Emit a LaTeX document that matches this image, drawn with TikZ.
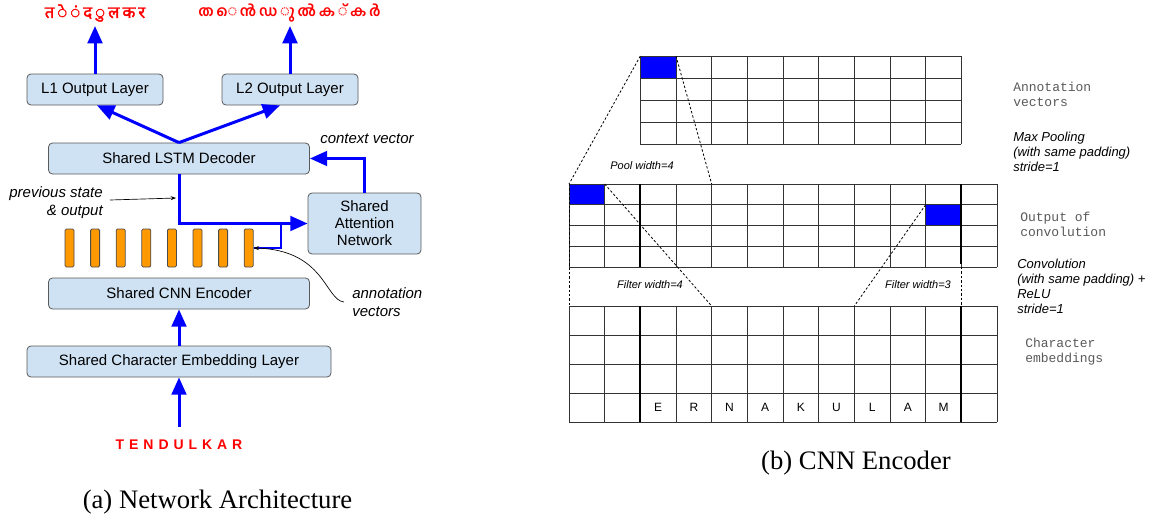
\documentclass[tikz,border=0pt]{standalone}
\usepackage{fontspec}
\setmainfont{Liberation Serif}
\newfontfamily\arial{Liberation Sans}
\newfontfamily\cour{Liberation Mono}
\newfontfamily\deva[Script=Devanagari, FakeBold=2.2]{Noto Sans}
\newfontfamily\mal[Script=Malayalam]{Hind Kochi}
\usetikzlibrary{arrows.meta,calc}
\definecolor{boxblue}{HTML}{CFE2F3}
\definecolor{barorange}{HTML}{FF9900}
\begin{document}
\begin{tikzpicture}[x=0.75pt,y=-0.75pt,
  box/.style={draw=black!65, fill=boxblue, rounded corners=3pt, line width=0.6pt,
    font=\arial\fontsize{11.25}{12.75}\selectfont, align=center, inner sep=0pt},
  barrow/.style={draw=blue, line width=2.25pt, -{Triangle[length=13pt,width=11pt]}},
  bline/.style={draw=blue, line width=1.6pt},
  lbl/.style={font=\arial\itshape\fontsize{11.25}{13.5}\selectfont, inner sep=0pt},
  vbar/.style={draw=black!70, fill=barorange, rounded corners=1pt, minimum width=6.75pt,
    minimum height=28.5pt, inner sep=0pt, line width=0.6pt},
  thinarrow/.style={line width=0.5pt, -{Stealth[length=4pt,width=3pt]}},
  gridl/.style={draw=black!80, line width=0.75pt},
  thickl/.style={draw=black, line width=1.6pt},
  dsh/.style={draw=black, line width=0.6pt, dash pattern=on 1.8pt off 1.5pt},
  slbl/.style={font=\arial\itshape\fontsize{8.25}{10}\selectfont, inner sep=0pt},
  mono/.style={font=\cour\fontsize{9.75}{11.25}\selectfont, text=black!65, align=left, anchor=west, inner sep=0pt},
  itl/.style={font=\arial\itshape\fontsize{9.75}{11.25}\selectfont, align=left, anchor=west, inner sep=0pt},
  captxt/.style={font=\fontsize{20}{24}\selectfont, inner sep=0pt}
]
\useasboundingbox (0,0) rectangle (1160,521);

% ---------------- (a) Network Architecture ----------------
\node[font=\deva\fontsize{12.5}{14}\selectfont, text=red, inner sep=0pt] (o1) at (95,13)
  {त\kern2.3pt े\kern2.3pt ं\kern2.3pt द\kern2.3pt ु\kern2.3pt ल\kern2.3pt क\kern2.3pt र};
\node[font=\mal\bfseries\fontsize{11}{13}\selectfont, text=red, inner sep=0pt] (o2) at (289.5,13)
  {ത\kern2pt െ\kern2pt ൻ\kern2pt ഡ\kern2pt ു\kern2pt ൽ\kern2pt ക\kern2pt ്\kern2pt ക\kern2pt ർ};

\node[box, minimum width=102pt, minimum height=23.25pt] (L1) at (95,89.5) {L1 Output Layer};
\node[box, minimum width=102pt, minimum height=23.25pt] (L2) at (290,89.5) {L2 Output Layer};
\node[box, minimum width=195.75pt, minimum height=23.25pt] (dec) at (179,158.5) {Shared LSTM Decoder};
\node[box, minimum width=84.75pt, minimum height=45.75pt] (att) at (364.5,223.5) {Shared\\Attention\\Network};
\node[box, minimum width=195.75pt, minimum height=23.25pt] (cnn) at (179,293.5) {Shared CNN Encoder};
\node[box, minimum width=228pt, minimum height=23.25pt] (emb) at (179,361.5) {Shared Character Embedding Layer};

\foreach \i in {0,...,7} \node[vbar] (b\i) at ({69.5+25.6*\i},248) {};

\coordinate (t1) at (95,26);
\coordinate (t2) at (290,26);
\draw[barrow] (L1.north) -- (t1);
\draw[barrow] (L2.north) -- (t2);
\draw[barrow] (dec.north) -- ([xshift=1.5pt]L1.south);
\draw[barrow] (dec.north) -- ([xshift=-7.5pt]L2.south);
\draw[barrow] (att.north) |- (dec.east);
\draw[barrow] (dec.south) |- (att.west);
\coordinate (j) at (281,223.5);
\draw[bline] (b7.east) -| (j);

\node[lbl, anchor=west] (ctx) at (320,139) {context vector};
\node[lbl, align=right, anchor=east] (prev) at (103,203) {previous state\\\& output};
\coordinate (pa) at (110,200);
\coordinate (pb) at (176,198);
\draw[thinarrow] (pa) -- (pb);
\node[lbl, align=left, anchor=west] (ann) at (352,302) {annotation\\vectors};
\draw[thinarrow] ([xshift=-6pt]ann.west) .. controls (325,300) and (325,250) .. (b7.east);

\node[font=\arial\bfseries\fontsize{10.5}{12}\selectfont, text=red, inner sep=0pt] (ten) at (179,445)
  {T\kern3.7pt E\kern3.7pt N\kern3.7pt D\kern3.7pt U\kern3.7pt L\kern3.7pt K\kern3.7pt A\kern3.7pt R};
\coordinate (tin) at (179,427);
\draw[barrow] (tin) -- (emb.south);
\draw[barrow] (emb.north) -- (cnn.south);

\node[captxt] (capa) at (217.5,502) {(a) Network Architecture};

% ---------------- (b) CNN Encoder ----------------
\def\cw{35.667}
% blue cells
\fill[blue] (640.33,56) rectangle (676,78);
\fill[blue] (569,184) rectangle (604.67,204.75);
\fill[blue] (925.67,204.75) rectangle (961.33,225.5);
% top grid (9 columns)
\foreach \i in {0,...,9} \draw[gridl] ({640.33+\cw*\i},56) -- ({640.33+\cw*\i},144);
\foreach \j in {0,...,4} \draw[gridl] (640.33,{56+22*\j}) -- (961.33,{56+22*\j});
% middle grid (12 columns)
\foreach \i in {0,...,12} \draw[gridl] ({569+\cw*\i},184) -- ({569+\cw*\i},267);
\foreach \j in {0,...,4} \draw[gridl] (569,{184+20.75*\j}) -- (997,{184+20.75*\j});
% bottom grid (12 columns)
\foreach \i in {0,...,12} \draw[gridl] ({569+\cw*\i},306) -- ({569+\cw*\i},422);
\foreach \j in {0,...,4} \draw[gridl] (569,{306+29*\j}) -- (997,{306+29*\j});
% thick separators
\draw[thickl] (640.33,184) -- (640.33,267);
\draw[thickl] (640.33,306) -- (640.33,422);
\draw[thickl] (961.33,184) -- (961.33,264);
\draw[thickl] (961.33,306) -- (961.33,422);
% dashed guides
\draw[dsh] (640.33,56) -- (569,184);
\draw[dsh] (676,56) -- (711.67,184);
\draw[dsh] (604.67,184) -- (711.67,306);
\draw[dsh] (569,184) -- (569,306);
\draw[dsh] (925.67,204.75) -- (854.33,306);
\draw[dsh] (961.33,267) -- (961.33,306);
% letters
\foreach \c [count=\k from 2] in {E,R,N,A,K,U,L,A,M}
  \node[font=\arial\fontsize{9}{10}\selectfont, inner sep=0pt] (ch\k) at ({569+\cw*(\k+0.5)},407.5) {\c};

\node[slbl] (pw) at (642,166) {Pool width=4};
\node[slbl] (fw4) at (650,285) {Filter width=4};
\node[slbl] (fw3) at (918,285) {Filter width=3};

\node[mono] (r1) at (1013,94.5) {Annotation\\vectors};
\node[itl] (r2) at (1013,152) {Max Pooling\\(with same padding)\\stride=1};
\node[mono] (r3) at (1020,224) {Output of\\convolution};
\node[itl] (r4) at (1017,286.5) {Convolution\\(with same padding) +\\ReLU\\stride=1};
\node[mono] (r5) at (1025,351.5) {Character\\embeddings};

\node[captxt] (capb) at (856,463) {(b) CNN Encoder};
\end{tikzpicture}
\end{document}
